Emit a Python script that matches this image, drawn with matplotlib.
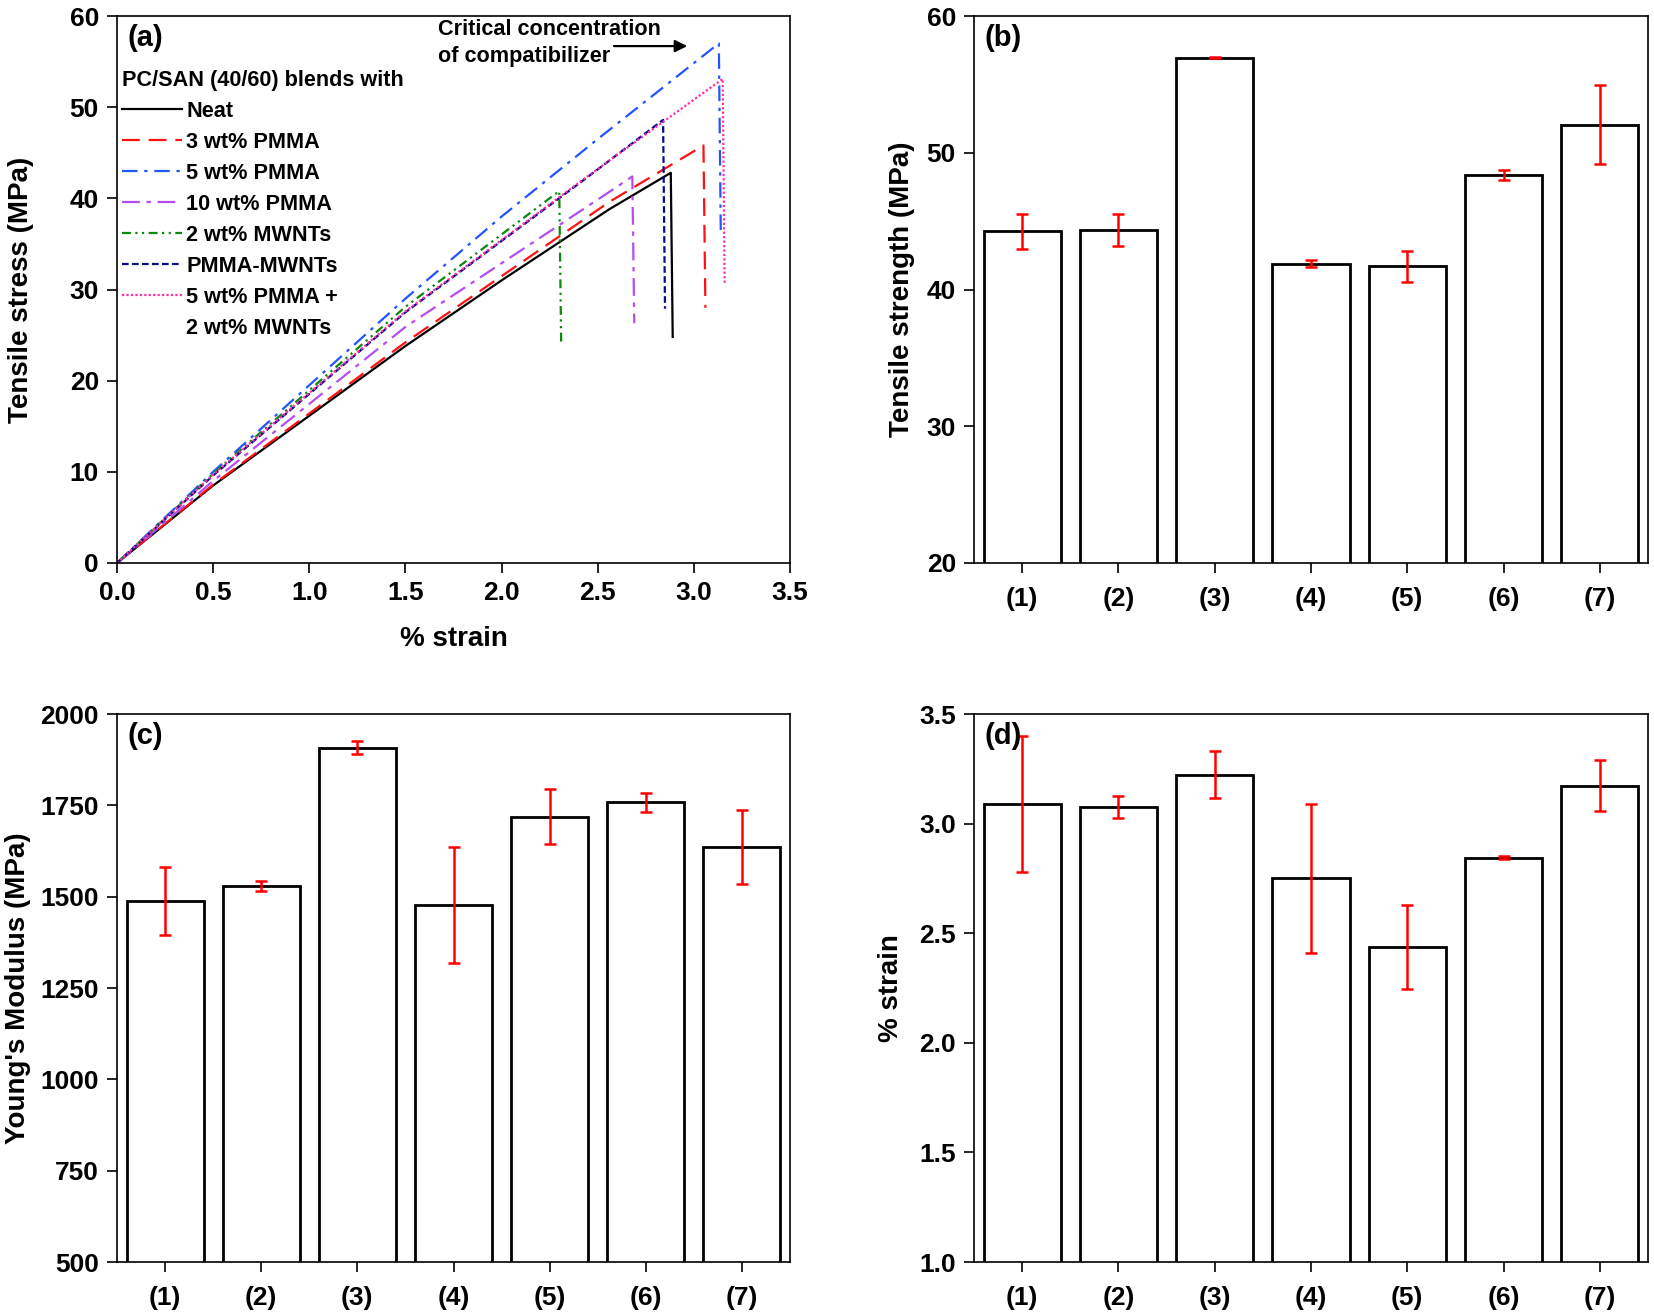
import matplotlib
matplotlib.use("Agg")
import matplotlib.pyplot as plt
from matplotlib.lines import Line2D

plt.rcParams['font.family'] = ['Liberation Sans', 'DejaVu Sans']
plt.rcParams['font.weight'] = 'bold'
plt.rcParams['axes.labelweight'] = 'bold'

# ---------------- data: panel (a) stress-strain curves ----------------
neat_strain = [0, 0.5, 1.5, 2.0, 2.56, 2.88, 2.89]
neat_stress = [0, 8.5, 23.8, 31.0, 38.8, 42.8, 24.8]
pmma3_strain = [0, 0.5, 1.5, 2.56, 3.05, 3.06]
pmma3_stress = [0, 8.6, 24.2, 39.6, 45.8, 28.0]
pmma5_strain = [0, 0.5, 1.5, 2.0, 2.5, 3.13, 3.14]
pmma5_stress = [0, 10.0, 29.0, 38.0, 46.5, 57.0, 36.2]
pmma10_strain = [0, 0.5, 1.5, 2.56, 2.68, 2.69]
pmma10_stress = [0, 9.0, 25.9, 40.7, 42.4, 26.3]
mwnt2_strain = [0, 0.5, 1.5, 2.30, 2.31]
mwnt2_stress = [0, 9.8, 28.1, 40.8, 24.0]
pmma_mwnt_strain = [0, 0.5, 1.5, 2.42, 2.84, 2.85]
pmma_mwnt_stress = [0, 9.6, 27.5, 41.9, 48.6, 27.9]
combo_strain = [0, 0.5, 1.5, 2.42, 3.15, 3.16]
combo_stress = [0, 9.7, 27.6, 42.0, 53.1, 30.7]

curve_labels = ["Neat", "3 wt% PMMA", "5 wt% PMMA", "10 wt% PMMA",
                "2 wt% MWNTs", "PMMA-MWNTs", "5 wt% PMMA +"]

# ---------------- data: bar panels ----------------
sample_labels = ["(1)", "(2)", "(3)", "(4)", "(5)", "(6)", "(7)"]
tensile_strength = [44.25, 44.35, 56.95, 41.9, 41.7, 48.35, 52.05]
tensile_strength_err = [1.3, 1.2, 0.05, 0.28, 1.13, 0.36, 2.87]
youngs_modulus = [1488, 1529, 1908, 1477, 1719, 1758, 1636]
youngs_modulus_err = [94, 14, 17, 159, 76, 26, 100]
strain_at_break = [3.089, 3.075, 3.223, 2.751, 2.437, 2.845, 3.173]
strain_at_break_err = [0.31, 0.05, 0.106, 0.34, 0.19, 0.005, 0.117]

W, H = 1654, 1313
fig = plt.figure(figsize=(W / 100, H / 100), dpi=100)

def rect(l, r, t, b):
    return [l / W, 1 - b / H, (r - l) / W, (b - t) / H]

axA = fig.add_axes(rect(117, 790, 16, 563))
axB = fig.add_axes(rect(974, 1648, 16, 563))
axC = fig.add_axes(rect(117, 790, 714, 1262))
axD = fig.add_axes(rect(974, 1648, 714, 1262))

TICK_FS = 19
LABEL_FS = 20
LEG_FS = 15.6
PANEL_FS = 21

for ax in (axA, axB, axC, axD):
    for sp in ax.spines.values():
        sp.set_linewidth(1.2)
    ax.tick_params(direction='out', length=7, width=1.2, labelsize=TICK_FS, pad=6)

# ---------------- panel (a) ----------------
lw = 1.6
styles = [
    dict(color='black', linestyle='-'),
    dict(color='#ff1010', dashes=(8, 4)),
    dict(color='#2255ff', dashes=(7, 3, 1.5, 3)),
    dict(color='#b44ef0', dashes=(8, 3, 2, 3)),
    dict(color='#0a8a0a', dashes=(4, 2, 1, 2, 1, 2)),
    dict(color='#0a0a8c', dashes=(3, 1.5)),
    dict(color='#ff2fa8', dashes=(1, 1)),
]
curves = [(neat_strain, neat_stress), (pmma3_strain, pmma3_stress),
          (pmma5_strain, pmma5_stress), (pmma10_strain, pmma10_stress),
          (mwnt2_strain, mwnt2_stress), (pmma_mwnt_strain, pmma_mwnt_stress),
          (combo_strain, combo_stress)]
handles = []
for (sx, sy), st, lab in zip(curves, styles, curve_labels):
    ln, = axA.plot(sx, sy, lw=lw, label=lab, **st)
    handles.append(ln)

axA.set_xlim(0, 3.5)
axA.set_ylim(0, 60)
axA.set_xticks([0, 0.5, 1.0, 1.5, 2.0, 2.5, 3.0, 3.5])
axA.set_xticklabels(["0.0", "0.5", "1.0", "1.5", "2.0", "2.5", "3.0", "3.5"])
axA.set_yticks([0, 10, 20, 30, 40, 50, 60])
axA.set_xlabel("% strain", fontsize=LABEL_FS, fontweight='bold', va='center')
axA.xaxis.set_label_coords(0.5, -0.139)
axA.set_ylabel("Tensile stress (MPa)", fontsize=LABEL_FS, fontweight='bold', va='center')
axA.yaxis.set_label_coords(-0.143, 0.5)

extra = Line2D([], [], color='none')
leg = axA.legend(handles + [extra], curve_labels + ["2 wt% MWNTs"],
                 loc='upper left', bbox_to_anchor=(-0.005, 0.917), frameon=False,
                 prop={'size': LEG_FS, 'weight': 'bold'}, handlelength=2.75,
                 handletextpad=0.2, labelspacing=0.46, borderaxespad=0.0,
                 title="PC/SAN (40/60) blends with",
                 title_fontproperties={'size': LEG_FS, 'weight': 'bold'})
leg._legend_box.align = 'left'

axA.annotate("", xy=(2.98, 56.7), xytext=(2.57, 56.7),
             arrowprops=dict(arrowstyle='-|>', color='black', lw=1.6,
                             mutation_scale=18))
axA.text(1.67, 59.7, "Critical concentration\nof compatibilizer",
         fontsize=LEG_FS, fontweight='bold', va='top', ha='left', linespacing=1.4)
axA.text(0.015, 0.985, "(a)", transform=axA.transAxes, fontsize=PANEL_FS,
         fontweight='bold', va='top', ha='left')

# ---------------- bar panels ----------------
xpos = list(range(1, 8))

def bar_panel(ax, vals, errs, ylim, yticks, yticklabels, ylabel, labx, panel):
    ax.bar(xpos, vals, width=0.8, color='white', edgecolor='black', linewidth=2.0, zorder=2)
    ax.errorbar(xpos, vals, yerr=errs, fmt='none', ecolor='#ff0000', elinewidth=1.8,
                capsize=4.5, capthick=1.8, zorder=3)
    ax.set_xlim(0.5, 7.5)
    ax.set_ylim(*ylim)
    ax.set_xticks(xpos)
    ax.set_xticklabels(sample_labels)
    ax.set_yticks(yticks)
    ax.set_yticklabels(yticklabels)
    ax.tick_params(axis='x', pad=10)
    ax.set_ylabel(ylabel, fontsize=LABEL_FS, fontweight='bold', va='center')
    ax.yaxis.set_label_coords(labx, 0.5)
    ax.text(0.015, 0.985, panel, transform=ax.transAxes, fontsize=PANEL_FS,
            fontweight='bold', va='top', ha='left', zorder=5)

bar_panel(axB, tensile_strength, tensile_strength_err, (20, 60),
          [20, 30, 40, 50, 60], ["20", "30", "40", "50", "60"],
          "Tensile strength (MPa)", -0.107, "(b)")
bar_panel(axC, youngs_modulus, youngs_modulus_err, (500, 2000),
          [500, 750, 1000, 1250, 1500, 1750, 2000],
          ["500", "750", "1000", "1250", "1500", "1750", "2000"],
          "Young's Modulus (MPa)", -0.147, "(c)")
bar_panel(axD, strain_at_break, strain_at_break_err, (1.0, 3.5),
          [1.0, 1.5, 2.0, 2.5, 3.0, 3.5], ["1.0", "1.5", "2.0", "2.5", "3.0", "3.5"],
          "% strain", -0.123, "(d)")

for ax in (axA, axB, axC, axD):
    for lab in ax.get_xticklabels() + ax.get_yticklabels():
        lab.set_fontweight('bold')
        lab.set_fontsize(TICK_FS)

fig.savefig("out.png", dpi=100, facecolor='white')
